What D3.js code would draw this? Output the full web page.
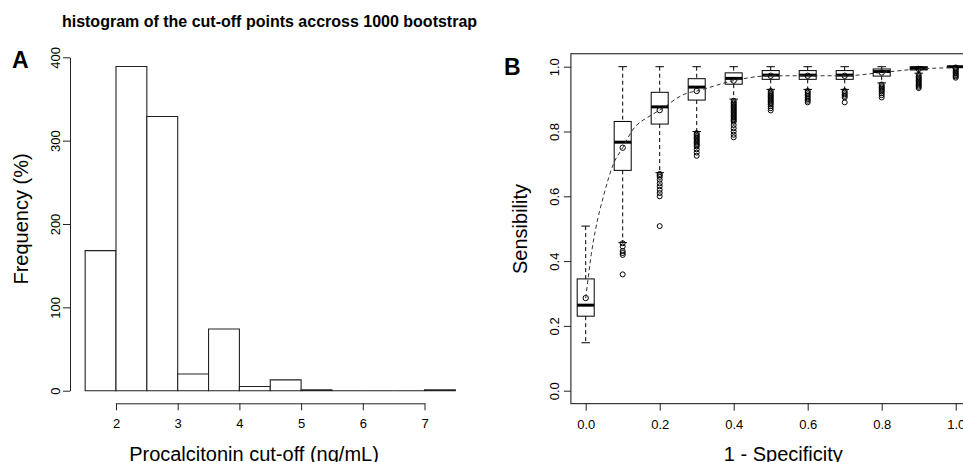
<!DOCTYPE html>
<html>
<head>
<meta charset="utf-8">
<script src="https://cdn.jsdelivr.net/npm/d3@7"></script>
<style>
  body { margin: 0; background: #fff; }
  svg { display: block; font-family: "Liberation Sans", Arial, sans-serif; }
</style>
</head>
<body>
<svg id="chart"></svg>
<script>
// panel A : histogram of the bootstrap cut-offs
const binEdges  = [1.5, 2, 2.5, 3, 3.5, 4, 4.5, 5, 5.5, 6, 6.5, 7, 7.5];
const binCounts = [168, 389, 329, 20, 74, 5, 13, 1, 0, 0, 0, 1];
const histXTicks = [2, 3, 4, 5, 6, 7];
const histYTicks = [0, 100, 200, 300, 400];

// panel B : sensibility boxplots for each 1 - specificity level
const fprLevels  = [0, 0.1, 0.2, 0.3, 0.4, 0.5, 0.6, 0.7, 0.8, 0.9, 1.0];
const sensLow    = [0.148, 0.457, 0.673, 0.800, 0.900, 0.930, 0.930, 0.930, 0.950, 0.980, 1.000];
const sensQ1     = [0.230, 0.680, 0.823, 0.897, 0.946, 0.961, 0.961, 0.961, 0.971, 0.990, 0.999];
const sensMedian = [0.264, 0.767, 0.876, 0.937, 0.964, 0.974, 0.974, 0.974, 0.985, 0.995, 1.000];
const sensQ3     = [0.345, 0.831, 0.921, 0.963, 0.981, 0.988, 0.988, 0.988, 0.993, 1.000, 1.000];
const sensHigh   = [0.508, 1.000, 1.000, 1.000, 1.000, 1.000, 1.000, 1.000, 1.000, 1.000, 1.000];
const sensMean   = [0.286, 0.750, 0.866, 0.925, 0.957, 0.972, 0.972, 0.972, 0.982, 0.993, 0.997];
const sensOutliers = [
  [],
  [0.455, 0.445, 0.431, 0.425, 0.419, 0.359],
  [0.669, 0.665, 0.660, 0.651, 0.640, 0.631, 0.620, 0.610, 0.600, 0.508],
  [0.795, 0.790, 0.786, 0.782, 0.778, 0.774, 0.770, 0.766, 0.762, 0.758, 0.754, 0.745, 0.735, 0.725],
  [0.895, 0.890, 0.886, 0.882, 0.878, 0.874, 0.870, 0.866, 0.862, 0.858, 0.854, 0.850, 0.846,
   0.842, 0.838, 0.834, 0.830, 0.820, 0.810, 0.800, 0.790, 0.782],
  [0.925, 0.920, 0.916, 0.912, 0.908, 0.904, 0.900, 0.896, 0.892, 0.888, 0.884, 0.878, 0.872, 0.865],
  [0.925, 0.920, 0.915, 0.910, 0.905, 0.900, 0.895, 0.890],
  [0.925, 0.920, 0.915, 0.910, 0.905, 0.890],
  [0.945, 0.940, 0.936, 0.932, 0.928, 0.924, 0.918, 0.912, 0.905],
  [0.975, 0.970, 0.966, 0.962, 0.958, 0.954, 0.950, 0.946, 0.942, 0.938, 0.934],
  [0.995, 0.990, 0.986, 0.982, 0.978, 0.974, 0.970, 0.966]
];
// dashed smooth curve
const curveFpr  = [0, 0.007, 0.015, 0.027, 0.048, 0.075, 0.1, 0.124, 0.178, 0.2, 0.273, 0.3, 0.4, 0.5, 0.6, 0.7, 0.8, 0.9, 1.0];
const curveSens = [0.286, 0.35, 0.42, 0.50, 0.60, 0.70, 0.75, 0.80, 0.851, 0.866, 0.918, 0.925, 0.957, 0.972, 0.972, 0.972, 0.982, 0.993, 0.997];
const rocTicks = [0, 0.2, 0.4, 0.6, 0.8, 1.0];

const FONT = '"Liberation Sans", Arial, sans-serif';
const INK = '#222';

const svg = d3.select('#chart')
    .attr('width', 963)
    .attr('height', 462);

svg.append('text')
    .attr('x', 269.5)
    .attr('y', 26.7)
    .attr('text-anchor', 'middle')
    .style('font-size', '16px')
    .style('font-weight', 'bold')
    .text('histogram of the cut-off points accross 1000 bootstrap');

class Histogram {
    constructor(config) {
        this.config = config;
        this.init();
    }

    init() {
        let self = this;
        let c = self.config;

        self.xscale = d3.scaleLinear()
            .domain([2, 7])
            .range([c.x2, c.x7]);
        self.yscale = d3.scaleLinear()
            .domain([0, 400])
            .range([c.yZero, c.yTop]);

        self.chart = svg.append('g');
    }

    render() {
        let self = this;
        let c = self.config;

        //棒 (zero-height bins still show as a line)
        self.chart.selectAll('path.bar')
            .data(binCounts)
            .join('path')
            .attr('class', 'bar')
            .attr('d', (d, i) => {
                let x0 = self.xscale(binEdges[i]), x1 = self.xscale(binEdges[i + 1]);
                let y0 = self.yscale(0), y1 = self.yscale(d);
                return `M${x0},${y0}V${y1}H${x1}V${y0}Z`;
            })
            .attr('fill', '#fff')
            .attr('stroke', INK)
            .attr('stroke-width', 1.1);

        let yaxis = d3.axisLeft(self.yscale)
            .tickValues(histYTicks)
            .tickSize(7)
            .tickSizeOuter(0);
        let yg = self.chart.append('g')
            .attr('transform', `translate(${c.axisX},0)`)
            .call(yaxis)
            .attr('color', INK)
            .attr('font-size', 13)
            .attr('font-family', FONT);
        yg.selectAll('.tick text')
            .attr('x', null)
            .attr('dy', null)
            .attr('fill', '#000')
            .attr('text-anchor', 'middle')
            .attr('transform', `translate(${-c.ylabOff},0) rotate(-90)`);

        let xaxis = d3.axisBottom(self.xscale)
            .tickValues(histXTicks)
            .tickFormat(d3.format('d'))
            .tickSize(7)
            .tickSizeOuter(0);
        let xg = self.chart.append('g')
            .attr('transform', `translate(0,${c.axisY})`)
            .call(xaxis)
            .attr('color', INK)
            .attr('font-size', 13)
            .attr('font-family', FONT);
        xg.selectAll('.tick text')
            .attr('y', 25)
            .attr('dy', null)
            .attr('fill', '#000');

        //ラベル
        self.chart.append('text')
            .attr('x', c.xlabX)
            .attr('y', 460.5)
            .attr('text-anchor', 'middle')
            .style('font-size', '20px')
            .text(c.xlabel);
        self.chart.append('text')
            .attr('transform', `translate(${c.ylabX},${c.ylabY}) rotate(-90)`)
            .attr('text-anchor', 'middle')
            .style('font-size', '20px')
            .text(c.ylabel);
        self.chart.append('text')
            .attr('x', c.tagX)
            .attr('y', c.tagY)
            .style('font-size', '23px')
            .style('font-weight', 'bold')
            .text(c.tag);
    }
}

class RocBoxChart {
    constructor(config) {
        this.config = config;
        this.init();
    }

    init() {
        let self = this;
        let c = self.config;

        self.xscale = d3.scaleLinear()
            .domain([0, 1])
            .range([c.x0, c.x1]);
        self.yscale = d3.scaleLinear()
            .domain([0, 1])
            .range([c.y0, c.y1]);

        self.chart = svg.append('g');
        self.boxes = fprLevels.map((f, i) => ({
            fpr: f,
            low: sensLow[i], q1: sensQ1[i], med: sensMedian[i], q3: sensQ3[i], high: sensHigh[i],
            mean: sensMean[i], out: sensOutliers[i]
        }));
    }

    render() {
        let self = this;
        let c = self.config;
        let x = self.xscale, y = self.yscale;
        let half = (x(c.boxWidth) - x(0)) / 2;

        let g = self.chart.selectAll('g.box')
            .data(self.boxes)
            .join('g')
            .attr('class', 'box');

        // whiskers
        g.append('line')
            .attr('x1', d => x(d.fpr)).attr('x2', d => x(d.fpr))
            .attr('y1', d => y(d.high)).attr('y2', d => y(d.q3))
            .attr('stroke', '#000').attr('stroke-dasharray', '4,3');
        g.append('line')
            .attr('x1', d => x(d.fpr)).attr('x2', d => x(d.fpr))
            .attr('y1', d => y(d.q1)).attr('y2', d => y(d.low))
            .attr('stroke', '#000').attr('stroke-dasharray', '4,3');
        ['high', 'low'].forEach(k => {
            g.append('line')
                .attr('x1', d => x(d.fpr) - half / 2).attr('x2', d => x(d.fpr) + half / 2)
                .attr('y1', d => y(d[k])).attr('y2', d => y(d[k]))
                .attr('stroke', '#000');
        });

        g.append('rect')
            .attr('x', d => x(d.fpr) - half)
            .attr('width', half * 2)
            .attr('y', d => y(d.q3))
            .attr('height', d => y(d.q1) - y(d.q3))
            .attr('fill', '#fff')
            .attr('stroke', '#000');
        g.append('line')
            .attr('x1', d => x(d.fpr) - half).attr('x2', d => x(d.fpr) + half)
            .attr('y1', d => y(d.med)).attr('y2', d => y(d.med))
            .attr('stroke', '#000').attr('stroke-width', 3);

        g.selectAll('circle.out')
            .data(d => d.out.map(v => ({fpr: d.fpr, v: v})))
            .join('circle')
            .attr('class', 'out')
            .attr('cx', d => x(d.fpr))
            .attr('cy', d => y(d.v))
            .attr('r', 2.5)
            .attr('fill', 'none')
            .attr('stroke', '#000');

        // mean curve + means
        let line = d3.line()
            .curve(d3.curveMonotoneX)
            .x((d, i) => x(curveFpr[i]))
            .y(d => y(d));
        self.chart.append('path')
            .datum(curveSens)
            .attr('d', line)
            .attr('fill', 'none')
            .attr('stroke', '#333')
            .attr('stroke-dasharray', '4,3');
        g.append('circle')
            .attr('cx', d => x(d.fpr))
            .attr('cy', d => y(d.mean))
            .attr('r', 2.7)
            .attr('fill', 'none')
            .attr('stroke', '#000');

        // 枠
        self.chart.append('rect')
            .attr('x', x(-0.04))
            .attr('y', y(1.04))
            .attr('width', x(1.04) - x(-0.04))
            .attr('height', y(-0.04) - y(1.04))
            .attr('fill', 'none')
            .attr('stroke', INK)
            .attr('stroke-width', 1.1);

        let yaxis = d3.axisLeft(y)
            .tickValues(rocTicks)
            .tickFormat(d3.format('.1f'))
            .tickSize(7)
            .tickSizeOuter(0);
        let yg = self.chart.append('g')
            .attr('transform', `translate(${x(-0.04)},0)`)
            .call(yaxis)
            .attr('color', INK)
            .attr('font-size', 13)
            .attr('font-family', FONT);
        yg.select('.domain').remove();
        yg.selectAll('.tick text')
            .attr('x', null)
            .attr('dy', null)
            .attr('fill', '#000')
            .attr('text-anchor', 'middle')
            .attr('transform', `translate(${-c.ylabOff},0) rotate(-90)`);

        let xaxis = d3.axisBottom(x)
            .tickValues(rocTicks)
            .tickFormat(d3.format('.1f'))
            .tickSize(7)
            .tickSizeOuter(0);
        let xg = self.chart.append('g')
            .attr('transform', `translate(0,${y(-0.04)})`)
            .call(xaxis)
            .attr('color', INK)
            .attr('font-size', 13)
            .attr('font-family', FONT);
        xg.select('.domain').remove();
        xg.selectAll('.tick text')
            .attr('y', 25)
            .attr('dy', null)
            .attr('fill', '#000');

        self.chart.append('text')
            .attr('x', c.xlabX)
            .attr('y', 460.5)
            .attr('text-anchor', 'middle')
            .style('font-size', '20px')
            .text(c.xlabel);
        self.chart.append('text')
            .attr('transform', `translate(${c.ylabX},${c.ylabY}) rotate(-90)`)
            .attr('text-anchor', 'middle')
            .style('font-size', '20px')
            .text(c.ylabel);
        self.chart.append('text')
            .attr('x', c.tagX)
            .attr('y', c.tagY)
            .style('font-size', '23px')
            .style('font-weight', 'bold')
            .text(c.tag);
    }
}

let histA = new Histogram({
    x2: 116, x7: 424.5, yZero: 390.7, yTop: 57.3,
    axisX: 70, axisY: 403.3, ylabOff: 10,
    xlabel: 'Procalcitonin cut-off (ng/mL)', xlabX: 254,
    ylabel: 'Frequency (%)', ylabX: 27.6, ylabY: 219,
    tag: 'A', tagX: 12, tagY: 68
});
histA.render();

let rocB = new RocBoxChart({
    x0: 585.7, x1: 955.7, y0: 390.7, y1: 66.7,
    boxWidth: 0.046, ylabOff: 12,
    xlabel: '1 - Specificity', xlabX: 783.3,
    ylabel: 'Sensibility', ylabX: 526.5, ylabY: 229,
    tag: 'B', tagX: 504, tagY: 75
});
rocB.render();
</script>
</body>
</html>
